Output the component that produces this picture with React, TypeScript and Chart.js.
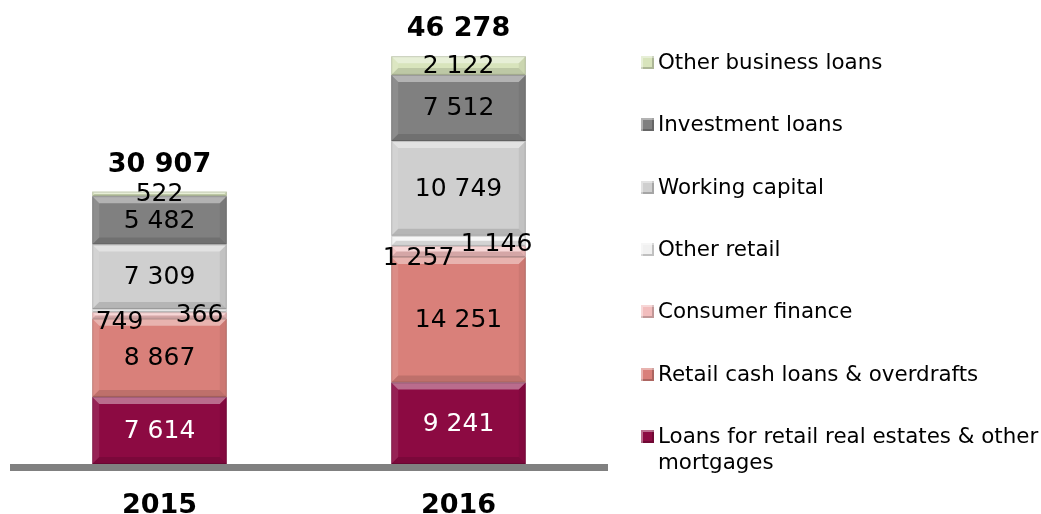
import React, { useEffect, useRef } from "react";
import { Chart, registerables } from "chart.js";

Chart.register(...registerables);

const categories = ["2015", "2016"];
const seriesNames = [
  "Loans for retail real estates & other mortgages",
  "Retail cash loans & overdrafts",
  "Consumer finance",
  "Other retail",
  "Working capital",
  "Investment loans",
  "Other business loans",
];
const mortgages = [7614, 9241];
const retailCash = [8867, 14251];
const consumerFinance = [749, 1257];
const otherRetail = [366, 1146];
const workingCapital = [7309, 10749];
const investmentLoans = [5482, 7512];
const otherBusiness = [522, 2122];
const totals = [30907, 46278];

const colors = ["#8C0A42", "#D9807A", "#F2BDBD", "#F1F1F1", "#CFCFCF", "#808080", "#D8E4BC"];
const labelColors = ["#FFFFFF", "#000", "#000", "#000", "#000", "#000", "#000"];
// label offsets (styling) per dataset index: [dx, dy] per category
const labelOffsets: Record<number, number[][]> = {
  2: [[-40, 6], [-40, 6]],
  3: [[40, 4], [38, 3]],
};

const FONT = "'DejaVu Sans', Verdana, sans-serif";

const fmt = (v: number) => String(v).replace(/\B(?=(\d{3})+(?!\d))/g, " ");

const decorPlugin = {
  id: "decor",
  beforeDatasetsDraw(chart: any) {
    const { ctx, chartArea } = chart;
    ctx.save();
    ctx.fillStyle = "#808080";
    ctx.fillRect(chartArea.left, chartArea.bottom, chartArea.right - chartArea.left, 7);
    ctx.restore();
  },
  afterDatasetsDraw(chart: any) {
    const { ctx } = chart;
    ctx.save();
    chart.data.datasets.forEach((ds: any, di: number) => {
      const meta = chart.getDatasetMeta(di);
      meta.data.forEach((el: any) => {
        const { x, y, base, width } = el.getProps(["x", "y", "base", "width"], true);
        const l = x - width / 2, r = x + width / 2, t = Math.min(y, base), b = Math.max(y, base);
        const h = b - t;
        const bv = Math.min(7, h / 2);
        const poly = (pts: number[][], fill: string) => {
          ctx.beginPath();
          ctx.moveTo(pts[0][0], pts[0][1]);
          for (let i = 1; i < pts.length; i++) ctx.lineTo(pts[i][0], pts[i][1]);
          ctx.closePath();
          ctx.fillStyle = fill;
          ctx.fill();
        };
        poly([[l, t], [r, t], [r - bv, t + bv], [l + bv, t + bv]], "rgba(255,255,255,0.4)");
        poly([[l, t], [l + bv, t + bv], [l + bv, b - bv], [l, b]], "rgba(255,255,255,0.1)");
        poly([[r, t], [r - bv, t + bv], [r - bv, b - bv], [r, b]], "rgba(0,0,0,0.06)");
        poly([[l, b], [l + bv, b - bv], [r - bv, b - bv], [r, b]], "rgba(0,0,0,0.12)");
        ctx.strokeStyle = "rgba(0,0,0,0.15)";
        ctx.lineWidth = 1;
        ctx.strokeRect(l + 0.5, t + 0.5, width - 1, h - 1);
      });
    });
    ctx.textAlign = "center";
    ctx.textBaseline = "middle";
    ctx.font = `25px ${FONT}`;
    chart.data.datasets.forEach((ds: any, di: number) => {
      const meta = chart.getDatasetMeta(di);
      meta.data.forEach((el: any, i: number) => {
        const { x, y, base } = el.getProps(["x", "y", "base"], true);
        const off = labelOffsets[di] ? labelOffsets[di][i] : [0, 0];
        ctx.fillStyle = labelColors[di];
        ctx.fillText(fmt(ds.data[i]), x + off[0], (y + base) / 2 + off[1] + 1);
      });
    });
    const topMeta = chart.getDatasetMeta(chart.data.datasets.length - 1);
    ctx.font = `bold 27px ${FONT}`;
    ctx.fillStyle = "#000";
    topMeta.data.forEach((el: any, i: number) => {
      const { x, y } = el.getProps(["x", "y"], true);
      ctx.fillText(fmt(totals[i]), x, y - 27);
    });
    ctx.restore();
  },
};

export default function App() {
  const ref = useRef<HTMLCanvasElement>(null);
  useEffect(() => {
    document.body.style.margin = "0";
    document.body.style.overflow = "hidden";
    const data = [mortgages, retailCash, consumerFinance, otherRetail, workingCapital, investmentLoans, otherBusiness];
    const chart = new Chart(ref.current!, {
      type: "bar",
      data: {
        labels: categories,
        datasets: data.map((d, i) => ({
          label: seriesNames[i],
          data: d,
          backgroundColor: colors[i],
          borderWidth: 0,
          barPercentage: 0.9,
          categoryPercentage: 0.5,
        })),
      },
      options: {
        animation: false,
        responsive: false,
        layout: { padding: { left: 10, right: 433, top: 41, bottom: 9 } },
        plugins: { legend: { display: false }, tooltip: { enabled: false } },
        scales: {
          x: {
            stacked: true,
            grid: { display: false, drawTicks: false },
            border: { display: false },
            ticks: { color: "#000", padding: 28, font: { family: FONT, size: 27, weight: "bold", lineHeight: 1 } },
          },
          y: { stacked: true, display: false, min: 0, max: 48000 },
        },
      },
      plugins: [decorPlugin],
    });
    return () => chart.destroy();
  }, []);

  const legendItems = seriesNames.map((n, i) => ({ name: n, color: colors[i] })).reverse();

  return (
    <div style={{ position: "relative", width: 1041, height: 514, overflow: "hidden", fontFamily: FONT }}>
      <canvas ref={ref} width={1041} height={556} style={{ position: "absolute", left: 0, top: 0 }} />
      {legendItems.map((it, i) => (
        <div
          key={it.name}
          style={{ position: "absolute", left: 641, top: 49 + i * 62.3, width: 400, display: "flex", alignItems: "flex-start" }}
        >
          <div
            style={{
              width: 13,
              height: 13,
              marginTop: 7,
              marginRight: 4,
              flex: "none",
              background: it.color,
              boxShadow: "inset 2px 2px 0 rgba(255,255,255,0.4), inset -2px -2px 0 rgba(0,0,0,0.2)",
            }}
          />
          <div style={{ fontSize: 21.4, lineHeight: "26px", color: "#000" }}>{it.name}</div>
        </div>
      ))}
    </div>
  );
}
